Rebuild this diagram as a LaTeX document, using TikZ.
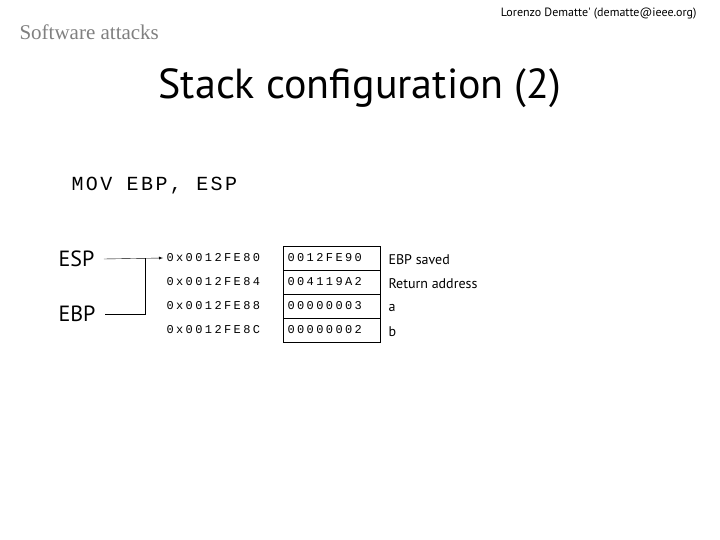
\documentclass[tikz,border=0pt]{standalone}
\usepackage{fontspec}
\setmainfont{Liberation Serif}
\newfontfamily\comic{PT Sans}
\newfontfamily\mono[LetterSpace=20]{Liberation Mono}
\newfontfamily\monob[LetterSpace=12]{Liberation Mono}
\begin{document}
\begin{tikzpicture}[x=1pt,y=-1pt,
  cell/.style={draw,minimum width=97pt,minimum height=24pt,inner sep=0pt,font=\mono\fontsize{12}{12}\selectfont,text width=88pt,align=left},
  addr/.style={anchor=west,font=\mono\fontsize{12}{12}\selectfont},
  lab/.style={anchor=west,font=\comic\fontsize{14}{14}\selectfont},
  reg/.style={anchor=west,font=\comic\fontsize{22}{22}\selectfont}]
\useasboundingbox (0,0) rectangle (720,540);
\node[anchor=west,text=gray,font=\fontsize{21}{21}\selectfont] (sa) at (16,32) {Software attacks};
\node[anchor=east,font=\comic\fontsize{12}{12}\selectfont] (au) at (700,14) {Lorenzo Dematte' (dematte@ieee.org)};
\node[font=\comic\fontsize{42}{42}\selectfont] (t) at (360,88) {Stack configuration (2)};
\node[anchor=west,font=\monob\fontsize{20}{20}\selectfont] (m) at (68,186) {MOV EBP, ESP};
\node[reg] (esp) at (55,259) {ESP};
\node[reg] (ebp) at (55,314) {EBP};
\foreach \i/\a/\v/\l in {0/80/0012FE90/EBP saved,1/84/004119A2/Return address,2/88/00000003/a,3/8C/00000002/b}{
  \node[addr] (a\i) at (163,{258+24*\i}) {0x0012FE\a};
  \node[cell] (c\i) at (331.5,{258+24*\i}) {\v};
  \node[lab] (l\i) at (385,{260+24*\i}) {\l};
}
\coordinate (j) at (145,258);
\draw[-latex] (esp.east) ++(6pt,0) coordinate (e1) -- (a0.west);
\draw (ebp.east) ++(6pt,0) coordinate (e2) -- (e2 -| j) -- (j);
\end{tikzpicture}
\end{document}
